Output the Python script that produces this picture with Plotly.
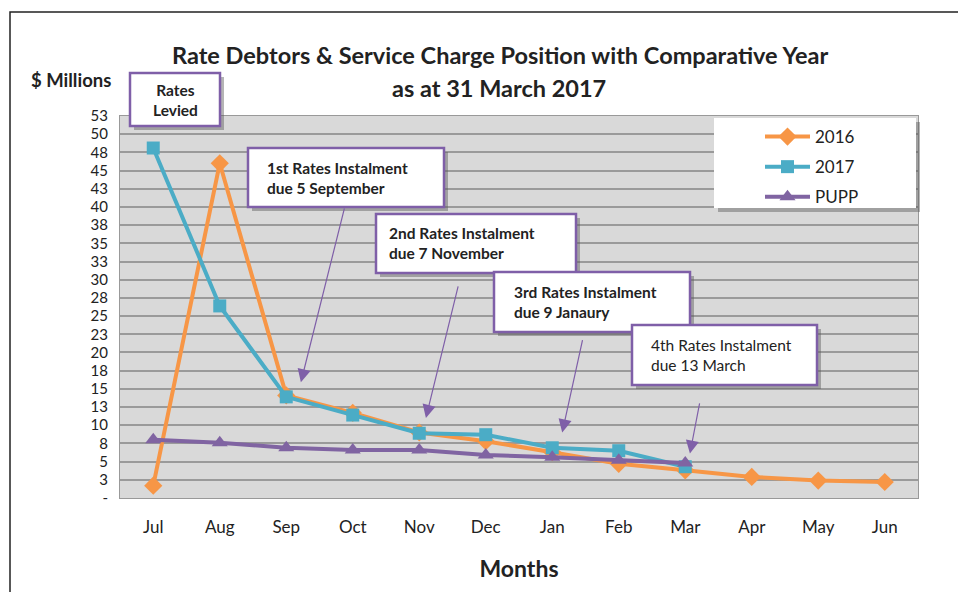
import plotly.graph_objects as go

months = ["Jul", "Aug", "Sep", "Oct", "Nov", "Dec", "Jan", "Feb", "Mar", "Apr", "May", "Jun"]
y2016 = [1.7, 46.0, 14.1, 11.7, 9.0, 7.8, 6.3, 4.7, 3.8, 2.9, 2.4, 2.2]
y2017 = [48.1, 26.4, 13.9, 11.4, 8.9, 8.7, 6.9, 6.5, 4.3]
pupp = [8.0, 7.6, 6.9, 6.6, 6.6, 5.9, 5.6, 5.2, 4.8]

tick_vals = [0, 2.5, 5, 7.5, 10, 12.5, 15, 17.5, 20, 22.5, 25, 27.5, 30, 32.5, 35,
             37.5, 40, 42.5, 45, 47.5, 50, 52.5]
tick_text = ["-", "3", "5", "8", "10", "13", "15", "18", "20", "23", "25", "28", "30",
             "33", "35", "38", "40", "43", "45", "48", "50", "53"]

FONT = "Lato"
PURPLE = "#7F5FA8"

# page has an 8px body margin, so the figure sits at (8, 8)
OFF = 8
W, H = 958, 584
# plot area in page pixels: x 120..918, y 116..498
L, R, T, B = 120, 918, 116, 498
def px(x):
    return (x - L) / (R - L)
def py(y):
    return (B - y) / (B - T)

fig = go.Figure()
fig.add_trace(go.Scatter(x=months, y=y2016, name="2016", mode="lines+markers", legendgroup="a",
                         line=dict(color="#F79646", width=4),
                         marker=dict(symbol="diamond", size=14, color="#F79646")))
fig.add_trace(go.Scatter(x=months[:len(y2017)], y=y2017, name="2017", mode="lines+markers",
                         legendgroup="b",
                         line=dict(color="#4BACC6", width=4),
                         marker=dict(symbol="square", size=13, color="#4BACC6")))
fig.add_trace(go.Scatter(x=months[:len(pupp)], y=pupp, name="PUPP", mode="lines+markers",
                         legendgroup="c",
                         line=dict(color="#8064A2", width=4),
                         marker=dict(symbol="triangle-up", size=14, color="#8064A2")))

shapes = []
# outer chart border
shapes.append(dict(type="rect", xref="paper", yref="paper", x0=px(10), x1=px(962),
                   y0=py(610), y1=py(12), line=dict(color="#222", width=1.5)))

# callout boxes: (x0, y0, x1, y1)
boxes = [(130, 73, 220, 126), (248, 148, 444, 207), (376, 214, 576, 273),
         (494, 272, 690, 332), (632, 325, 817, 385)]
for x0, y0, x1, y1 in boxes:
    shapes.append(dict(type="rect", xref="paper", yref="paper",
                       x0=px(x0 + 4), x1=px(x1 + 4), y0=py(y1 + 4), y1=py(y0 + 4),
                       fillcolor="rgba(90,90,90,0.45)", line=dict(width=0), layer="above"))
    shapes.append(dict(type="rect", xref="paper", yref="paper",
                       x0=px(x0), x1=px(x1), y0=py(y1), y1=py(y0),
                       fillcolor="white", line=dict(color=PURPLE, width=2.5), layer="above"))

# legend box
shapes.append(dict(type="rect", xref="paper", yref="paper", x0=px(718), x1=px(920),
                   y0=py(212), y1=py(122), fillcolor="rgba(90,90,90,0.45)",
                   line=dict(width=0), layer="above"))
shapes.append(dict(type="rect", xref="paper", yref="paper", x0=px(714), x1=px(916),
                   y0=py(208), y1=py(118), fillcolor="white",
                   line=dict(width=0), layer="above"))

annotations = []
def label(text, x, y, size, xanchor="center", align="center"):
    annotations.append(dict(text=text, xref="paper", yref="paper", x=px(x), y=py(y),
                            xanchor=xanchor, yanchor="middle", align=align,
                            showarrow=False, font=dict(size=size, color="#222", family=FONT)))

label("<b>Rate Debtors & Service Charge Position with Comparative Year</b>", 500, 55, 23.5)
label("<b>as at 31 March 2017</b>", 499, 88, 23.5)
label("<b>$ Millions</b>", 71, 80, 18.5)

label("<b>Rates<br>Levied</b>", 175, 100, 15.5)
label("<b>1st Rates Instalment<br>due 5 September</b>", 265, 178, 15.5, "left", "left")
label("<b>2nd Rates Instalment<br>due 7 November</b>", 387, 243, 15.5, "left", "left")
label("<b>3rd Rates Instalment<br>due 9 Janaury</b>", 512, 302, 15.5, "left", "left")
label("4th Rates Instalment<br>due 13 March", 649, 355, 15.5, "left", "left")

# arrows (head x, head y, tail x, tail y) in category index / value units
arrows = [(2.22, 15.9, 2.88, 40.0), (4.1, 11.0, 4.59, 29.3),
          (6.15, 9.0, 6.46, 21.9), (8.07, 6.1, 8.22, 13.2)]
for hx, hy, tx, ty in arrows:
    annotations.append(dict(x=hx, y=hy, ax=tx, ay=ty, xref="x", yref="y",
                            axref="x", ayref="y", text="", showarrow=True,
                            arrowhead=2, arrowsize=2.2, arrowwidth=1.2,
                            arrowcolor=PURPLE))

fig.update_layout(
    width=W, height=H,
    margin=dict(l=L - OFF, r=W - (R - OFF), t=T - OFF, b=H - (B - OFF)),
    paper_bgcolor="white", plot_bgcolor="#D9D9D9",
    font=dict(family=FONT, color="#222"),
    shapes=shapes, annotations=annotations,
    legend=dict(x=px(760), y=py(119), xanchor="left", yanchor="top",
                bgcolor="rgba(0,0,0,0)", font=dict(size=17, family=FONT, color="#222"),
                itemwidth=45, tracegroupgap=5),
    xaxis=dict(type="category", range=[-0.5, 11.5], showgrid=False,
               showline=True, linecolor="#999", mirror=True, ticks="",
               tickfont=dict(size=17, family=FONT, color="#222"), ticklabelstandoff=14,
               title=dict(text="<b>Months</b>", font=dict(size=23, family=FONT, color="#222"),
                          standoff=24)),
    yaxis=dict(range=[0, 52.5], tickvals=tick_vals, ticktext=tick_text,
               showgrid=True, gridcolor="#9A9A9A", gridwidth=2,
               showline=True, linecolor="#999", mirror=True, zeroline=False,
               tickfont=dict(size=15, family=FONT, color="#222"), ticklabelstandoff=8),
)

fig.write_html("out.html")
